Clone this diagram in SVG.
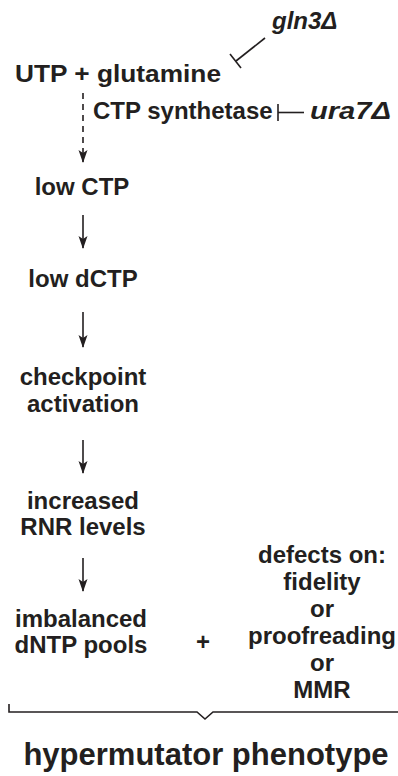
<svg xmlns="http://www.w3.org/2000/svg" width="398" height="776" viewBox="0 0 398 776">
<defs>
<style>
.t{font-family:"Liberation Sans",Arial,Helvetica,sans-serif;font-weight:bold;font-size:24px;fill:#231f20}
.c{text-anchor:middle}
.i{font-style:italic}
.big{font-size:31px}
.ln{stroke:#231f20;stroke-width:1.6;fill:none}
.ah{fill:#231f20}
</style>
<marker id="arr" viewBox="0 0 13 10" refX="12" refY="5" markerWidth="13" markerHeight="10" markerUnits="userSpaceOnUse" orient="auto">
<path d="M0,0.5 L3,5 L0,9.5 L13,5 Z" class="ah"/>
</marker>
</defs>
<rect width="398" height="776" fill="#fff"/>
<g id="gln3">
<text class="t i" x="272" y="29">gln3Δ</text>
</g>
<g id="utp">
<text class="t" x="15" y="82" textLength="206" lengthAdjust="spacingAndGlyphs">UTP + glutamine</text>
</g>
<g id="ctps">
<text class="t" x="93" y="119">CTP synthetase</text>
</g>
<g id="ura7">
<text class="t i" x="310" y="119" textLength="81" lengthAdjust="spacingAndGlyphs">ura7Δ</text>
</g>
<g id="lowctp"><text class="t c" x="82" y="195">low CTP</text></g>
<g id="lowdctp"><text class="t c" x="83" y="287">low dCTP</text></g>
<g id="checkpoint"><text class="t c" x="83" y="385">checkpoint</text><text class="t c" x="83" y="412">activation</text></g>
<g id="rnr"><text class="t c" x="83" y="509">increased</text><text class="t c" x="83" y="535">RNR levels</text></g>
<g id="dntp"><text class="t c" x="81" y="627">imbalanced</text><text class="t c" x="81" y="653">dNTP pools</text></g>
<g id="plus"><text class="t c" x="203" y="650">+</text></g>
<g id="defects">
<text class="t c" x="322" y="563">defects on:</text>
<text class="t c" x="322" y="590">fidelity</text>
<text class="t c" x="322" y="617">or</text>
<text class="t c" x="322" y="644">proofreading</text>
<text class="t c" x="322" y="671">or</text>
<text class="t c" x="322" y="698">MMR</text>
</g>
<g id="pheno"><text class="t c big" x="206" y="765">hypermutator phenotype</text></g>
<g id="connectors">
<line class="ln" x1="265" y1="38" x2="236" y2="61"/>
<line class="ln" x1="230" y1="54" x2="241" y2="68"/>
<line class="ln" x1="278" y1="104" x2="278" y2="121"/>
<line class="ln" x1="278" y1="112.5" x2="304" y2="112.5"/>
<line class="ln" x1="83" y1="93" x2="83" y2="162" stroke-dasharray="6 5" marker-end="url(#arr)"/>
<line class="ln" x1="83" y1="215" x2="83" y2="248" marker-end="url(#arr)"/>
<line class="ln" x1="83" y1="312" x2="83" y2="347" marker-end="url(#arr)"/>
<line class="ln" x1="83" y1="440" x2="83" y2="473" marker-end="url(#arr)"/>
<line class="ln" x1="83" y1="558" x2="83" y2="591" marker-end="url(#arr)"/>
<path class="ln" d="M9,704 V712 H197 L205,719 L213,712 H398"/>
</g>
</svg>
